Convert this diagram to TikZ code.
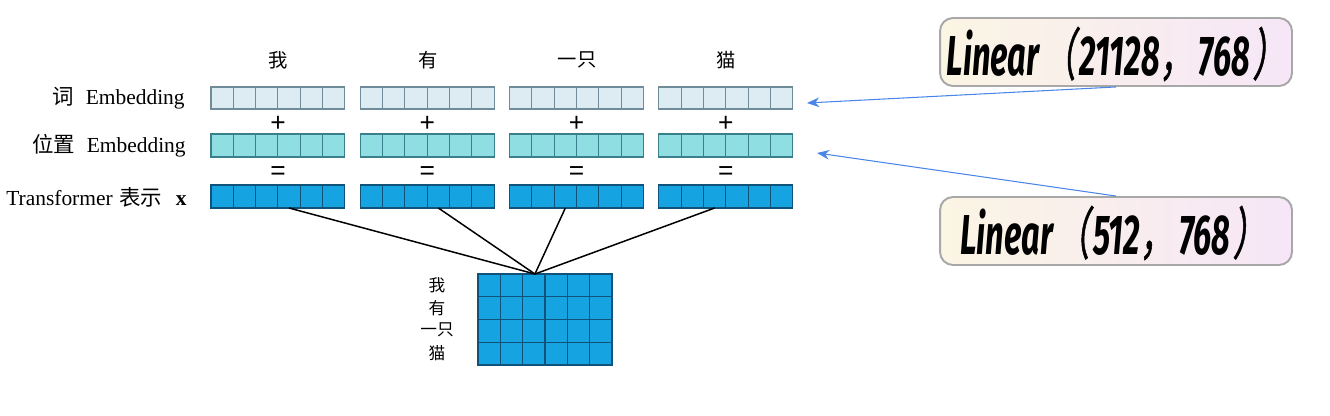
\documentclass[tikz,border=0pt]{standalone}
\usepackage{fontspec}
\setmainfont{Liberation Serif}
\newfontfamily\cjk{Noto Sans CJK SC}
\newfontfamily\cjkit{Noto Sans CJK SC}[FakeSlant=0.2,FakeBold=1.5]
\newfontfamily\linfont{Fira Sans}
\newfontfamily\signfont{Liberation Sans}
\usetikzlibrary{arrows.meta,calc}
\definecolor{fillA}{RGB}{221,235,243}
\definecolor{drawA}{RGB}{112,140,155}
\definecolor{fillB}{RGB}{142,222,226}
\definecolor{drawB}{RGB}{58,128,140}
\definecolor{fillC}{RGB}{22,163,226}
\definecolor{drawC}{RGB}{15,82,122}
\definecolor{boxL}{RGB}{251,245,228}
\definecolor{boxR}{RGB}{246,230,247}
\definecolor{boxD}{RGB}{168,168,168}
\definecolor{arrowc}{RGB}{74,134,232}
\newcommand{\FW}[1]{{\cjkit\mdseries\upshape #1}}
\tikzset{
  cellbase/.style={draw, line width=0.6pt, inner sep=0pt, outer sep=0pt, minimum width=0.446cm},
  cellA/.style={cellbase, fill=fillA, draw=drawA, minimum height=0.44cm},
  cellB/.style={cellbase, fill=fillB, draw=drawB, minimum height=0.46cm},
  cellC/.style={cellbase, fill=fillC, draw=drawC, minimum height=0.46cm},
  cellM/.style={cellbase, fill=fillC, draw=drawC, minimum width=0.4466cm, minimum height=0.455cm},
  word/.style={font=\cjk\fontsize{11}{13}\selectfont, inner sep=0pt},
  mword/.style={font=\cjk\fontsize{9.5}{11}\selectfont, inner sep=0pt},
  rowlabel/.style={anchor=east, inner sep=0pt, font=\fontsize{12.2}{14}\selectfont},
  sign/.style={font=\signfont\fontsize{15}{17}\selectfont, inner sep=0pt},
  conn/.style={line width=0.85pt, black},
  linbox/.style={draw=boxD, line width=1.1pt, rounded corners=0.26cm, left color=boxL, right color=boxR, minimum width=7.04cm, minimum height=1.36cm, inner sep=0pt},
  lintext/.style={font=\linfont\bfseries\itshape\fontsize{32}{36}\selectfont, inner sep=0pt},
  blueline/.style={arrowc, line width=0.6pt, -{Stealth[length=7pt,width=5.5pt]}},
}
\begin{document}
\begin{tikzpicture}[x=0.02cm,y=-0.02cm]
\useasboundingbox (0,0) rectangle (1330,416);
% vectors
\foreach \b in {1,...,4} {
  \foreach \c in {1,...,6} {
    \node[cellA] (a\b-\c) at ({211+149.3*(\b-1)+22.3*(\c-0.5)},98) {};
    \node[cellB] (p\b-\c) at ({211+149.3*(\b-1)+22.3*(\c-0.5)},145.5) {};
    \node[cellC] (t\b-\c) at ({211+149.3*(\b-1)+22.3*(\c-0.5)},196.5) {};
  }
  \node[sign] (plus\b) at ({278+149.3*(\b-1)},124) {+};
  \node[sign] (eq\b) at ({278+149.3*(\b-1)},173) {=};
}
% words
\node[word] (w1) at (278,60) {我};
\node[word] (w2) at (428,60) {有};
\node[word] (w3) at (577,60) {一只};
\node[word] (w4) at (726,60) {猫};
% row labels
\node[rowlabel] (l1) at (185,98) {{\cjk 词}\hspace{0.55em}Embedding};
\node[rowlabel] (l2) at (186,146) {{\cjk 位置}\hspace{0.55em}Embedding};
\node[rowlabel] (l3) at (187,197) {Transformer\hspace{0.3em}{\cjk 表示}\hspace{0.65em}\textbf{x}};
% matrix
\foreach \r in {1,...,4} {
  \foreach \c in {1,...,6} {
    \node[cellM] (m\r-\c) at ({478+22.33*(\c-0.5)},{274+22.75*(\r-0.5)}) {};
  }
}
\node[mword] (mw1) at (437,285) {我};
\node[mword] (mw2) at (437,308) {有};
\node[mword] (mw3) at (437,330) {一只};
\node[mword] (mw4) at (437,353) {猫};
% connectors
\coordinate (apex) at ($(m1-3.north)!0.05!(m1-4.north)$);
\draw[conn] (t1-4.south) -- (apex);
\draw[conn] (t2-4.south) -- (apex);
\draw[conn] (t3-3.south) -- (apex);
\draw[conn] (t4-3.south) -- (apex);
% linear boxes
\node[linbox] (box1) at (1116,52) {};
\node[linbox] (box2) at (1116,231) {};
\node[lintext] (lt1) at (1116,54) {\scalebox{0.58}[1]{Linear\hspace{0.12em}\FW{（}\hspace{0.12em}21128\FW{，}\hspace{0.2em}768\hspace{0.08em}\FW{）}}};
\node[lintext] (lt2) at (1113,233) {\scalebox{0.58}[1]{Linear\hspace{0.12em}\FW{（}\hspace{0.12em}512\FW{，}\hspace{0.2em}768\hspace{0.08em}\FW{）}}};
\coordinate (tip1) at (807,103);
\coordinate (tip2) at (817,153);
\draw[blueline] (box1.south) -- (tip1);
\draw[blueline] (box2.north) -- (tip2);
\end{tikzpicture}
\end{document}
